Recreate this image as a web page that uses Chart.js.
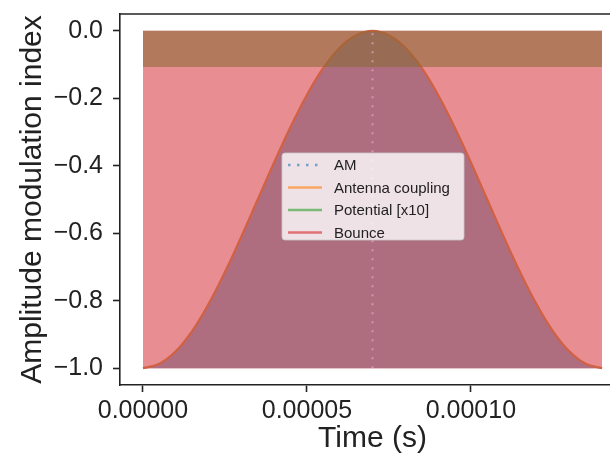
<!DOCTYPE html>
<html>
<head>
<meta charset="utf-8">
<script src="https://cdn.jsdelivr.net/npm/chart.js@4"></script>
<style>
  html, body { margin: 0; padding: 0; background: #fff; }
  #wrap { width: 610px; height: 457px; overflow: hidden; }
</style>
</head>
<body>
<div id="wrap"><canvas id="chart" width="640" height="457"></canvas></div>
<script>
// time axis (s) and modulation index along the coupling curve
const curveTime = [
  0, 0.000005, 0.00001, 0.000015, 0.00002, 0.000025, 0.00003, 0.000035,
  0.00004, 0.000045, 0.00005, 0.000055, 0.00006, 0.000065, 0.00007,
  0.000075, 0.00008, 0.000085, 0.00009, 0.000095, 0.0001, 0.000105,
  0.00011, 0.000115, 0.00012, 0.000125, 0.00013, 0.000135, 0.00014
];
const couplingIndex = [
  -1.00, -0.987, -0.95, -0.89, -0.81, -0.715, -0.61, -0.50,
  -0.39, -0.285, -0.19, -0.11, -0.05, -0.013, 0.00,
  -0.013, -0.05, -0.11, -0.19, -0.285, -0.39, -0.50,
  -0.61, -0.715, -0.81, -0.89, -0.95, -0.987, -1.00
];

// AM marker
const amTime = [0.00007, 0.00007];
const amIndex = [-1.0, 0.0];

// potential band
const potentialTime = [0, 0.00014];
const potentialTop = [0.0, 0.0];
const potentialFloor = -0.107;

// bounce region
const bounceTime = [0, 0.00014];
const bounceTop = [0.0, 0.0];
const bounceFloor = -1.0;

const seriesLabels = ["AM", "Antenna coupling", "Potential [x10]", "Bounce"];
const legendColors = [
  "rgba(31, 119, 180, 0.6)",
  "rgba(255, 127, 14, 0.6)",
  "rgba(44, 160, 44, 0.6)",
  "rgba(214, 39, 40, 0.6)"
];

const xTicks = [0, 0.00005, 0.0001];
const yTicks = [-1.0, -0.8, -0.6, -0.4, -0.2, 0.0];

const toPoints = (xs, ys) => xs.map((x, i) => ({ x: x, y: ys[i] }));

const FONT = "'Liberation Sans', Arial, sans-serif";
const INK = "#222";

// top spine across the plot
const topSpine = {
  id: "topSpine",
  afterDraw(chart) {
    const { ctx, chartArea } = chart;
    ctx.save();
    ctx.strokeStyle = INK;
    ctx.lineWidth = 1.6;
    ctx.beginPath();
    ctx.moveTo(chartArea.left - 0.8, chartArea.top);
    ctx.lineTo(chart.width, chartArea.top);
    ctx.stroke();
    ctx.restore();
  }
};

// legend box inside the plot
const boxLegend = {
  id: "boxLegend",
  afterDraw(chart) {
    const ctx = chart.ctx;
    const x = 282, y = 153, w = 182, h = 87, r = 3;
    ctx.save();
    ctx.fillStyle = "rgba(255, 255, 255, 0.8)";
    ctx.strokeStyle = "rgba(200, 200, 200, 0.8)";
    ctx.lineWidth = 1;
    ctx.beginPath();
    ctx.roundRect(x, y, w, h, r);
    ctx.fill();
    ctx.stroke();
    ctx.font = "15px " + FONT;
    ctx.textBaseline = "middle";
    seriesLabels.forEach((label, i) => {
      const ly = 165 + i * 22.5;
      ctx.strokeStyle = legendColors[i];
      ctx.lineWidth = 2.5;
      ctx.setLineDash(i === 0 ? [2.5, 6.5] : []);
      ctx.beginPath();
      ctx.moveTo(288, ly);
      ctx.lineTo(322, ly);
      ctx.stroke();
      ctx.setLineDash([]);
      ctx.fillStyle = INK;
      ctx.fillText(label, 334, ly + 1);
    });
    ctx.restore();
  }
};

new Chart(document.getElementById("chart"), {
  type: "line",
  data: {
    datasets: [
      {
        label: seriesLabels[0],
        data: toPoints(amTime, amIndex),
        borderColor: "rgba(235, 175, 210, 0.6)",
        borderWidth: 2,
        borderDash: [2, 7],
        pointRadius: 0,
        fill: false,
        order: 0
      },
      {
        label: seriesLabels[2],
        data: toPoints(potentialTime, potentialTop),
        borderWidth: 0,
        borderColor: "rgba(0,0,0,0)",
        backgroundColor: "rgba(134, 106, 49, 0.55)",
        pointRadius: 0,
        fill: { value: potentialFloor },
        order: 1
      },
      {
        label: seriesLabels[1],
        data: toPoints(curveTime, couplingIndex),
        borderColor: "rgb(210, 96, 66)",
        borderWidth: 2.2,
        backgroundColor: "rgb(174, 110, 128)",
        tension: 0.4,
        pointRadius: 0,
        fill: { value: bounceFloor },
        order: 2
      },
      {
        label: seriesLabels[3],
        data: toPoints(bounceTime, bounceTop),
        borderWidth: 0,
        borderColor: "rgba(0,0,0,0)",
        backgroundColor: "rgb(232, 141, 145)",
        pointRadius: 0,
        fill: { value: bounceFloor },
        order: 3
      }
    ]
  },
  options: {
    responsive: false,
    animation: false,
    layout: { padding: { left: 15, top: 14, right: 15, bottom: 0 } },
    plugins: {
      legend: { display: false },
      tooltip: { enabled: false }
    },
    scales: {
      x: {
        type: "linear",
        min: -0.000007,
        max: 0.000147,
        afterBuildTicks: (scale) => { scale.ticks = xTicks.map(v => ({ value: v })); },
        afterFit: (scale) => {
          scale.height = 72;
          scale.paddingLeft = 0;
          scale.paddingRight = 0;
        },
        grid: { drawOnChartArea: false, drawTicks: true, tickLength: 7, tickColor: INK, tickWidth: 1.6 },
        border: { display: true, color: INK, width: 1.6 },
        ticks: {
          padding: 4,
          maxRotation: 0,
          color: INK,
          font: { family: FONT, size: 25 },
          callback: (v) => v.toFixed(5)
        },
        title: {
          display: true,
          text: "Time (s)",
          color: INK,
          padding: 0,
          font: { family: FONT, size: 30 }
        }
      },
      y: {
        min: -1.05,
        max: 0.05,
        afterBuildTicks: (scale) => { scale.ticks = yTicks.map(v => ({ value: v })); },
        afterFit: (scale) => {
          scale.width = 105;
          scale.paddingTop = 0;
          scale.paddingBottom = 0;
        },
        grid: { drawOnChartArea: false, drawTicks: true, tickLength: 7, tickColor: INK, tickWidth: 1.6 },
        border: { display: true, color: INK, width: 1.6 },
        ticks: {
          padding: 10,
          color: INK,
          font: { family: FONT, size: 25 },
          callback: (v) => v.toFixed(1).replace("-", "\u2212")
        },
        title: {
          display: true,
          text: "Amplitude modulation index",
          color: INK,
          padding: 0,
          font: { family: FONT, size: 30 }
        }
      }
    }
  },
  plugins: [topSpine, boxLegend]
});
</script>
</body>
</html>
